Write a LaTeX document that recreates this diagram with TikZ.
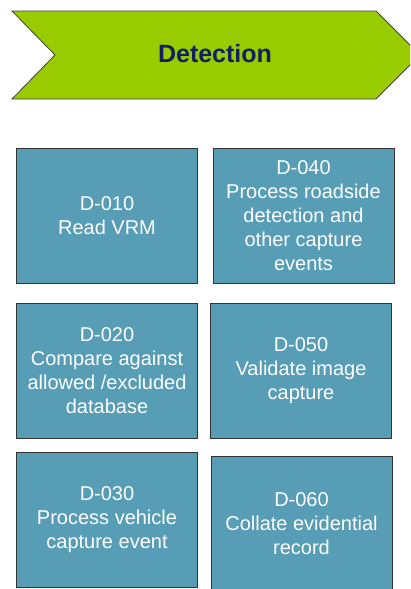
\documentclass[tikz,border=0pt]{standalone}
\usepackage{fontspec}
\setmainfont{Liberation Sans}
\definecolor{chevgreen}{RGB}{153,204,0}
\definecolor{taskblue}{RGB}{86,157,181}
\definecolor{titlenavy}{RGB}{16,32,96}

\begin{document}
\begin{tikzpicture}[x=1pt, y=-1pt,
    task/.style={draw=black!80, line width=0.8pt, fill=taskblue, text=white,
      minimum width=181pt, minimum height=135pt, inner sep=0pt, align=center,
      font=\fontsize{20}{24}\selectfont}]
  % page frame
  \clip (0,0) rectangle (410,589);
  % chevron
  \draw[fill=chevgreen, draw=black!75, line width=0.8pt]
    (12,11) -- (376,11) -- (420,55) -- (376,99) -- (12,99) -- (55,55) -- cycle;
  \node[text=titlenavy, font=\fontsize{25}{30}\selectfont\bfseries] (title) at (215,54) {Detection};
  % tasks, left column
  \node[task] (d010) at (107,215.5) {D-010\\Read VRM};
  \node[task] (d020) at (107,370.5) {D-020\\Compare against\\allowed /excluded\\database};
  \node[task] (d030) at (107,520) {D-030\\Process vehicle\\capture event};
  % tasks, right column
  \node[task] (d040) at (303.5,216) {D-040\\Process roadside\\detection and\\other capture\\events};
  \node[task] (d050) at (301,370.5) {D-050\\Validate image\\capture};
  \node[task] (d060) at (301.5,524) {D-060\\Collate evidential\\record};
\end{tikzpicture}
\end{document}
